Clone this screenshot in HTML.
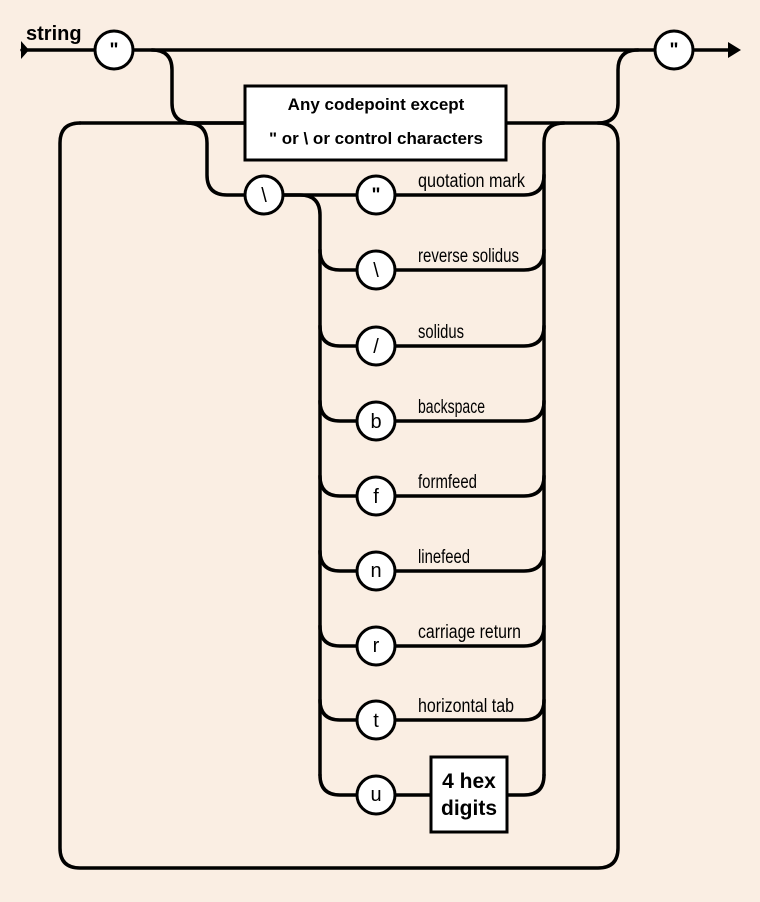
<!DOCTYPE html>
<html><head><meta charset="utf-8"><style>
html,body{margin:0;padding:0;background:#faeee3;}
svg{display:block}
.t{font-family:"Liberation Sans",sans-serif;}
</style></head><body>
<svg width="760" height="902" viewBox="0 0 760 902" xmlns="http://www.w3.org/2000/svg">
<rect width="760" height="902" fill="#faeee3"/>
<g fill="none" stroke="#000" stroke-width="3.5" stroke-linecap="round">
<path d="M22,50 L728,50"/>
<path d="M152,50 Q172,50 172,70 L172,103 Q172,123 192,123 L245,123"/>
<path d="M187,123 Q207,123 207,143 L207,175 Q207,195 227,195 L245,195"/>
<path d="M80,123 Q60,123 60,143 L60,848 Q60,868 80,868 L598,868 Q618,868 618,848 L618,143 Q618,123 598,123 L506,123"/>
<path d="M80,123 L245,123"/>
<path d="M598,123 Q618,123 618,103 L618,70 Q618,50 638,50"/>
<path d="M564,123 Q544,123 544,143 L544,775"/>
<path d="M283,195 L357,195"/>
<path d="M283,195 L300,195 Q320,195 320,215 L320,775"/>
<path d="M395,195 L524,195 Q544,195 544,175"/>
<path d="M320,250 Q320,270 340,270 L357,270 M395,270 L524,270 Q544,270 544,250"/>
<path d="M320,326 Q320,346 340,346 L357,346 M395,346 L524,346 Q544,346 544,326"/>
<path d="M320,401 Q320,421 340,421 L357,421 M395,421 L524,421 Q544,421 544,401"/>
<path d="M320,476 Q320,496 340,496 L357,496 M395,496 L524,496 Q544,496 544,476"/>
<path d="M320,551 Q320,571 340,571 L357,571 M395,571 L524,571 Q544,571 544,551"/>
<path d="M320,626 Q320,646 340,646 L357,646 M395,646 L524,646 Q544,646 544,626"/>
<path d="M320,700 Q320,720 340,720 L357,720 M395,720 L524,720 Q544,720 544,700"/>
<path d="M320,775 Q320,795 340,795 L357,795 M395,795 L431,795 M507,795 L524,795 Q544,795 544,775"/>
</g>
<path d="M21,41 L29,50 L21,59 Z" fill="#000"/>
<path d="M728,42 L741,50 L728,58 Z" fill="#000"/>
<g fill="#fff" stroke="#000" stroke-width="3">
<circle cx="114" cy="50" r="19"/>
<circle cx="674" cy="50" r="19"/>
<circle cx="264" cy="195" r="19"/>
<circle cx="376" cy="195" r="19"/>
<circle cx="376" cy="270" r="19"/>
<circle cx="376" cy="346" r="19"/>
<circle cx="376" cy="421" r="19"/>
<circle cx="376" cy="496" r="19"/>
<circle cx="376" cy="571" r="19"/>
<circle cx="376" cy="646" r="19"/>
<circle cx="376" cy="720" r="19"/>
<circle cx="376" cy="795" r="19"/>
<rect x="245" y="86" width="261" height="74"/>
<rect x="431" y="757" width="76" height="75"/>
</g>
<g class="t" font-size="19" text-anchor="middle" font-weight="bold">
<text x="114" y="56">"</text>
<text x="674" y="56">"</text>
<text x="376" y="201">"</text>
</g>
<g class="t" font-size="20" text-anchor="middle">
<text x="264" y="202">\</text>
<text x="376" y="277">\</text>
<text x="376" y="353">/</text>
<text x="376" y="428">b</text>
<text x="376" y="503">f</text>
<text x="376" y="577">n</text>
<text x="376" y="652">r</text>
<text x="376" y="727">t</text>
<text x="376" y="801">u</text>
</g>
<text class="t" x="26" y="40" font-size="20" font-weight="bold">string</text>
<g class="t" font-size="17" font-weight="bold" text-anchor="middle">
<text x="376" y="110">Any codepoint except</text>
<text x="376" y="144">" or \ or control characters</text>
</g>
<g class="t" font-size="21" font-weight="bold" text-anchor="middle">
<text x="469" y="788">4 hex</text>
<text x="469" y="815">digits</text>
</g>
<g class="t" font-size="19">
<text x="418" y="187" textLength="107" lengthAdjust="spacingAndGlyphs">quotation mark</text>
<text x="418" y="262" textLength="101" lengthAdjust="spacingAndGlyphs">reverse solidus</text>
<text x="418" y="338" textLength="46" lengthAdjust="spacingAndGlyphs">solidus</text>
<text x="418" y="413" textLength="67" lengthAdjust="spacingAndGlyphs">backspace</text>
<text x="418" y="488" textLength="59" lengthAdjust="spacingAndGlyphs">formfeed</text>
<text x="418" y="563" textLength="52" lengthAdjust="spacingAndGlyphs">linefeed</text>
<text x="418" y="638" textLength="103" lengthAdjust="spacingAndGlyphs">carriage return</text>
<text x="418" y="712" textLength="96" lengthAdjust="spacingAndGlyphs">horizontal tab</text>
</g>
</svg>
</body></html>
